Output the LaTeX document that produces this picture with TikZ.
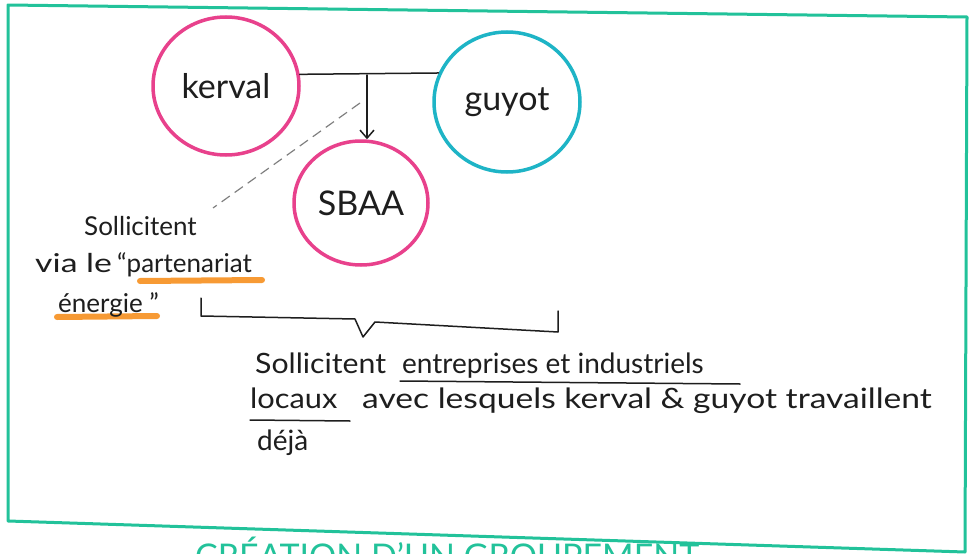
\documentclass[tikz,border=0pt]{standalone}
\usepackage{fontspec}
\setmainfont{Lato}
\usetikzlibrary{shapes.geometric,arrows.meta}
\definecolor{pinkc}{HTML}{E8418C}
\definecolor{cyanc}{HTML}{1EB4C6}
\definecolor{greenc}{HTML}{22C29A}
\definecolor{orangec}{HTML}{F7901E}
\definecolor{inkc}{HTML}{1E1E1E}
\begin{document}
\begin{tikzpicture}[x=1pt,y=-1pt,
 blob/.style={ellipse, draw, line width=3.5pt, inner sep=0pt, text=inkc},
 lbl/.style={font=\fontsize{34}{34}\selectfont},
 txt/.style={text=inkc, anchor=base west, inner sep=0pt, font=\fontsize{26}{26}\selectfont},
 btxt/.style={text=inkc, anchor=base west, inner sep=0pt, font=\fontsize{28}{28}\selectfont},
 ink/.style={draw=inkc, line width=1.5pt, line cap=round, line join=round},
 hl/.style={draw=orangec, line width=6pt, opacity=0.9, line cap=round},
]
\useasboundingbox (0,0) rectangle (970,554);
\clip (0,0) rectangle (970,554);
\fill[white] (0,0) rectangle (970,554);
\draw[greenc, line width=3pt, line join=round] (8,5) -- (967,17) -- (965,552) -- (8,521) -- cycle;

% circles
\node[blob, draw=pinkc, minimum width=146pt, minimum height=138pt, lbl] (kerval) at (226,86) {kerval};
\node[blob, draw=cyanc, minimum width=146pt, minimum height=140pt, lbl] (guyot) at (507,102) {guyot};
\node[blob, draw=pinkc, minimum width=134pt, minimum height=124pt, lbl] (sbaa) at (361,203) {SBAA};

% connectors
\draw[ink] (kerval.9) -- (guyot.157);
\coordinate (j) at (367,75);
\draw[ink, -{Straight Barb[length=8pt,width=14pt]}] (j) -- (j |- sbaa.north);
\coordinate (d1) at (360,103);
\coordinate (d2) at (213,208);
\draw[gray, line width=1.2pt, dash pattern=on 10pt off 6pt] (d1) -- (d2);

% highlights
\draw[hl] (140,281) -- (262,280);
\draw[hl] (57,317) -- (157,316);

% left text
\node[txt] (l1) at (84,235) {Sollicitent};
\node[txt] (l2a) at (35,272) {\scalebox{1.3}[1]{via le}};
\node[txt] (l2b) at (117,272) {``partenariat};
\node[txt] (l3) at (58,312) {énergie ''};

% brace
\draw[ink] (201,298) -- (201,316) -- (355,319) -- (363,337) -- (375,322) -- (558,332) -- (558,311);

% bottom text
\node[btxt] (b1a) at (255,373) {\scalebox{1.08}[1]{Sollicitent}};
\node[btxt] (b1b) at (402,373) {entreprises et industriels};
\node[btxt] (b2a) at (250,408) {\scalebox{1.1}[1]{locaux}};
\node[btxt] (b2b) at (362,408) {\scalebox{1.2}[1]{avec lesquels kerval \& guyot travaillent}};
\node[btxt] (b3) at (257,450) {déjà};
\draw[ink] (400,381) -- (740,384);
\draw[ink] (250,420) -- (350,421);

% title
\node[anchor=base west, inner sep=0pt, text=greenc, font=\fontsize{34}{34}\selectfont] (title) at (195,568) {CRÉATION D'UN GROUPEMENT};
\end{tikzpicture}
\end{document}
